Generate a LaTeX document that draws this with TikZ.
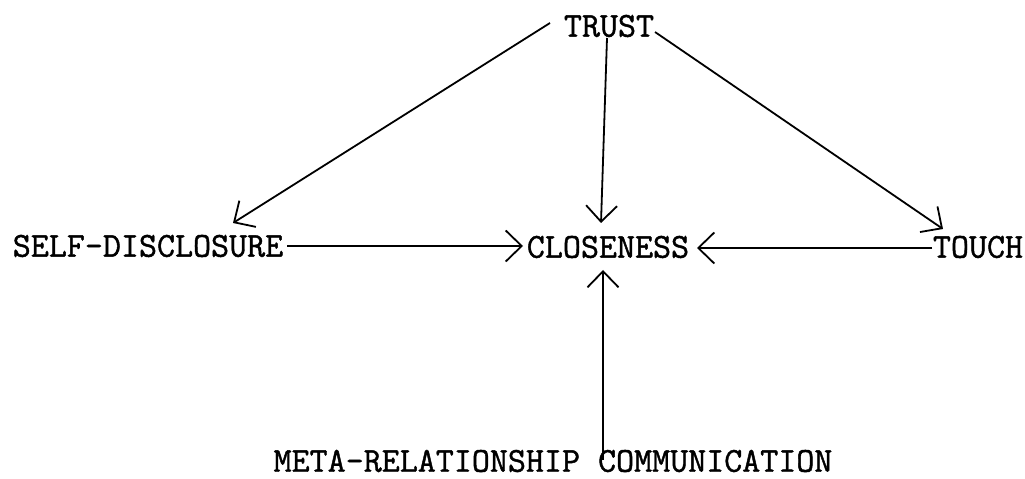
\documentclass[tikz,border=0pt]{standalone}
\usepackage{fontspec}
\newfontfamily\typewriter{Latin Modern Mono}[FakeBold=1.2]
\usetikzlibrary{arrows.meta}
\tikzset{
  label text/.style={font=\typewriter\fontsize{35}{40}\selectfont, inner sep=0pt, text=black},
  link/.style={draw=black, line width=1.8pt,
    -{Straight Barb[length=16pt, width=31pt, line width=1.8pt]}}
}
\begin{document}
\begin{tikzpicture}[x=1pt, y=1pt]
  \fill[white] (0,0) rectangle (1025,479);
  \useasboundingbox (0,0) rectangle (1025,479);

  % concepts
  \node[label text] (trust) at (609,453) {TRUST};
  \node[label text] (self)  at (148,233) {SELF-DISCLOSURE};
  \node[label text] (close) at (608,232) {CLOSENESS};
  \node[label text] (touch) at (978,232) {TOUCH};
  \node[label text] (meta)  at (553,18)  {META-RELATIONSHIP COMMUNICATION};

  % influences of trust
  \draw[link] ([shift={(-59,3)}]trust.center) -- ([shift={(85,23)}]self.center);
  \draw[link] ([shift={(-2,-12)}]trust.center) -- ([shift={(-7,24)}]close.center);
  \draw[link] ([shift={(46,-6)}]trust.center) -- ([shift={(-35,18)}]touch.center);

  % influences on closeness
  \draw[link] ([shift={(139,0)}]self.center) -- ([shift={(-85,1)}]close.center);
  \draw[link] ([shift={(-46,-1)}]touch.center) -- ([shift={(89,-1)}]close.center);
  \draw[link] ([shift={(50,1)}]meta.center) -- ([shift={(-5,-23)}]close.center);
\end{tikzpicture}
\end{document}
